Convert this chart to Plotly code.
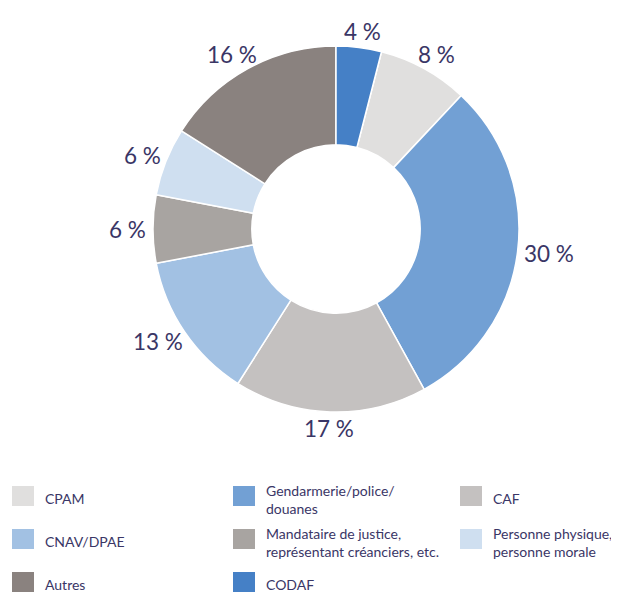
import math
import plotly.graph_objects as go

labels = ["CPAM", "Gendarmerie/police/<br>douanes", "CAF", "CNAV/DPAE",
          "Mandataire de justice,<br>représentant créanciers, etc.",
          "Personne physique,<br>personne morale", "Autres", "CODAF"]
values = [8, 30, 17, 13, 6, 6, 16, 4]
colors = ["#e0dfde", "#72a0d4", "#c4c1c0", "#a2c1e3", "#a8a4a1", "#cfdff0", "#8a827f", "#4580c6"]

text_color = "#3a3666"
FONT = "Lato"

# ---- layout geometry (in screenshot pixels) ----
PAGE_W, PAGE_H = 619, 592
OFF = 8                         # default page (body) margin of the html page
W, H = PAGE_W - OFF, PAGE_H - OFF
CX, CY, R = 336, 229, 183       # donut centre / outer radius
HOLE = 0.46
LABEL_GAP = 8
LABEL_FS = 22.5
# legend grid
LEG_COL_X = [12, 233, 460]
LEG_ROW_Y = [486, 529, 572]
SW_W, SW_H = 22, 20
LEG_TEXT_DX = 31
LEG_FS = 14
LEG_LINE = 18


def xp(x):
    return (x - OFF) / W


def yp(y):
    return 1 - (y - OFF) / H


total = sum(values)
# first slice (CPAM) starts right after CODAF, which sits at 12 o'clock
rotation = values[-1] / total * 360

fig = go.Figure(go.Pie(
    labels=labels,
    values=values,
    marker=dict(colors=colors, line=dict(color="white", width=1.5)),
    hole=HOLE,
    sort=False,
    direction="clockwise",
    rotation=rotation,
    textinfo="none",
    hoverinfo="label+value",
    showlegend=False,
    domain=dict(x=[xp(CX - R), xp(CX + R)], y=[yp(CY + R), yp(CY - R)]),
))

annotations = []
shapes = []

# percentage labels placed just outside each slice's mid-angle
cum = 0.0
for v in values:
    mid = rotation + (cum + v / 2) / total * 360
    cum += v
    th = math.radians(mid)
    s, c = math.sin(th), math.cos(th)
    w_est = LABEL_FS * (0.56 * len(str(v)) + 1.0)
    h_est = LABEL_FS * 0.75
    px = CX + (R + LABEL_GAP) * s + (w_est / 2) * s
    py = CY - (R + LABEL_GAP) * c - (h_est / 2) * c
    annotations.append(dict(
        x=xp(px), y=yp(py), xref="paper", yref="paper",
        text=f"{v} %", showarrow=False, xanchor="center", yanchor="middle",
        font=dict(size=LABEL_FS, color=text_color, family=FONT),
    ))

# legend: 3 columns, filled row by row
for i, (lab, col) in enumerate(zip(labels, colors)):
    r, k = divmod(i, 3)
    x0, y0 = LEG_COL_X[k], LEG_ROW_Y[r]
    shapes.append(dict(
        type="rect", xref="paper", yref="paper",
        x0=xp(x0), x1=xp(x0 + SW_W), y0=yp(y0 + SW_H), y1=yp(y0),
        fillcolor=col, line=dict(width=0),
    ))
    lines = lab.split("<br>")
    cy = y0 + SW_H / 2 + (2 if len(lines) == 1 else 3)
    for j, line in enumerate(lines):
        ly = cy + (j - (len(lines) - 1) / 2) * LEG_LINE
        annotations.append(dict(
            x=xp(x0 + LEG_TEXT_DX), y=yp(ly), xref="paper", yref="paper",
            text=line, showarrow=False, xanchor="left", yanchor="middle",
            font=dict(size=LEG_FS, color=text_color, family=FONT),
        ))

fig.update_layout(
    width=W, height=H,
    margin=dict(l=0, r=0, t=0, b=0, autoexpand=False),
    paper_bgcolor="white",
    plot_bgcolor="white",
    font=dict(family=FONT, color=text_color),
    showlegend=False,
    annotations=annotations,
    shapes=shapes,
)

fig.write_html("out.html")
